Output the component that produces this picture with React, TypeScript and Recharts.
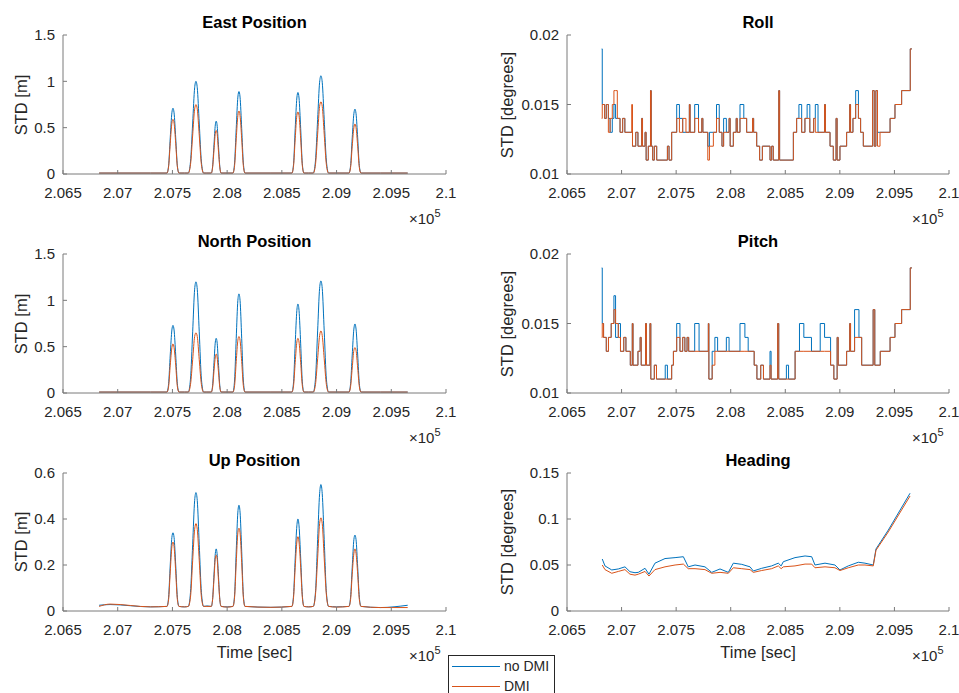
import React from 'react';
import { LineChart, Line, XAxis, YAxis } from 'recharts';

// ---- data ----
const X_TICKS = [206500, 207000, 207500, 208000, 208500, 209000, 209500, 210000];
const X_TICK_LABELS = ['2.065', '2.07', '2.075', '2.08', '2.085', '2.09', '2.095', '2.1'];

const posTime = [
  206830, 206930, 207300,
  207450, 207465, 207480, 207495, 207505, 207515, 207530, 207545, 207560,
  207610,
  207645, 207665, 207685, 207703, 207715, 207727, 207745, 207765, 207785,
  207815,
  207855, 207867, 207880, 207892, 207900, 207908, 207920, 207933, 207945,
  208000,
  208053, 208068, 208083, 208098, 208108, 208118, 208133, 208148, 208163,
  208400,
  208592, 208607, 208622, 208637, 208647, 208657, 208672, 208687, 208702,
  208745,
  208787, 208807, 208827, 208845, 208857, 208869, 208887, 208907, 208927,
  209000,
  209113, 209128, 209143, 209158, 209168, 209178, 209193, 209208, 209223,
  209400, 209650,
];

const eastNoDmi = [
  0.01, 0.01, 0.01,
  0.01, 0.09, 0.39, 0.66, 0.71, 0.66, 0.39, 0.09, 0.01,
  0.01,
  0.01, 0.13, 0.55, 0.93, 1.0, 0.93, 0.55, 0.13, 0.01,
  0.01,
  0.01, 0.08, 0.32, 0.53, 0.57, 0.53, 0.32, 0.08, 0.01,
  0.01,
  0.01, 0.12, 0.49, 0.83, 0.89, 0.83, 0.49, 0.12, 0.01,
  0.01,
  0.01, 0.11, 0.49, 0.82, 0.88, 0.82, 0.49, 0.11, 0.01,
  0.01,
  0.01, 0.14, 0.59, 0.99, 1.06, 0.99, 0.59, 0.14, 0.01,
  0.01,
  0.01, 0.09, 0.39, 0.65, 0.7, 0.65, 0.39, 0.09, 0.01,
  0.01, 0.01,
];
const eastDmi = [
  0.01, 0.01, 0.01,
  0.01, 0.08, 0.33, 0.55, 0.59, 0.55, 0.33, 0.08, 0.01,
  0.01,
  0.01, 0.1, 0.42, 0.7, 0.75, 0.7, 0.42, 0.1, 0.01,
  0.01,
  0.01, 0.07, 0.26, 0.44, 0.47, 0.44, 0.26, 0.07, 0.01,
  0.01,
  0.01, 0.09, 0.38, 0.63, 0.68, 0.63, 0.38, 0.09, 0.01,
  0.01,
  0.01, 0.09, 0.38, 0.63, 0.67, 0.63, 0.38, 0.09, 0.01,
  0.01,
  0.01, 0.1, 0.43, 0.73, 0.78, 0.73, 0.43, 0.1, 0.01,
  0.01,
  0.01, 0.07, 0.3, 0.5, 0.54, 0.5, 0.3, 0.07, 0.01,
  0.01, 0.01,
];

const northNoDmi = [
  0.01, 0.01, 0.01,
  0.01, 0.1, 0.41, 0.68, 0.73, 0.68, 0.41, 0.1, 0.01,
  0.01,
  0.01, 0.15, 0.66, 1.12, 1.2, 1.12, 0.66, 0.15, 0.01,
  0.01,
  0.01, 0.08, 0.33, 0.55, 0.59, 0.55, 0.33, 0.08, 0.01,
  0.01,
  0.01, 0.14, 0.59, 1.0, 1.07, 1.0, 0.59, 0.14, 0.01,
  0.01,
  0.01, 0.12, 0.53, 0.89, 0.96, 0.89, 0.53, 0.12, 0.01,
  0.01,
  0.01, 0.15, 0.67, 1.13, 1.21, 1.13, 0.67, 0.15, 0.01,
  0.01,
  0.01, 0.1, 0.41, 0.69, 0.745, 0.69, 0.41, 0.1, 0.01,
  0.01, 0.01,
];
const northDmi = [
  0.01, 0.01, 0.01,
  0.01, 0.07, 0.3, 0.49, 0.53, 0.49, 0.3, 0.07, 0.01,
  0.01,
  0.01, 0.09, 0.36, 0.61, 0.65, 0.61, 0.36, 0.09, 0.01,
  0.01,
  0.01, 0.06, 0.24, 0.39, 0.42, 0.39, 0.24, 0.06, 0.01,
  0.01,
  0.01, 0.08, 0.34, 0.57, 0.61, 0.57, 0.34, 0.08, 0.01,
  0.01,
  0.01, 0.08, 0.33, 0.55, 0.59, 0.55, 0.33, 0.08, 0.01,
  0.01,
  0.01, 0.09, 0.37, 0.62, 0.67, 0.62, 0.37, 0.09, 0.01,
  0.01,
  0.01, 0.07, 0.27, 0.46, 0.49, 0.46, 0.27, 0.07, 0.01,
  0.01, 0.01,
];

const upNoDmi = [
  0.025, 0.028, 0.018,
  0.02, 0.06, 0.2, 0.32, 0.34, 0.32, 0.2, 0.06, 0.02,
  0.018,
  0.02, 0.08, 0.29, 0.48, 0.515, 0.48, 0.29, 0.08, 0.02,
  0.022,
  0.02, 0.05, 0.16, 0.25, 0.27, 0.25, 0.16, 0.05, 0.02,
  0.018,
  0.02, 0.07, 0.26, 0.43, 0.46, 0.43, 0.26, 0.07, 0.02,
  0.016,
  0.02, 0.07, 0.23, 0.37, 0.4, 0.37, 0.23, 0.07, 0.02,
  0.018,
  0.02, 0.08, 0.31, 0.51, 0.55, 0.51, 0.31, 0.08, 0.02,
  0.018,
  0.02, 0.06, 0.19, 0.31, 0.33, 0.31, 0.19, 0.06, 0.02,
  0.015, 0.025,
];
const upDmi = [
  0.02, 0.03, 0.018,
  0.02, 0.05, 0.17, 0.28, 0.3, 0.28, 0.17, 0.05, 0.02,
  0.018,
  0.02, 0.06, 0.22, 0.355, 0.38, 0.355, 0.22, 0.06, 0.02,
  0.02,
  0.02, 0.05, 0.14, 0.23, 0.243, 0.23, 0.14, 0.05, 0.02,
  0.017,
  0.02, 0.06, 0.21, 0.34, 0.36, 0.34, 0.21, 0.06, 0.02,
  0.016,
  0.02, 0.06, 0.19, 0.3, 0.323, 0.3, 0.19, 0.06, 0.02,
  0.018,
  0.02, 0.07, 0.23, 0.38, 0.405, 0.38, 0.23, 0.07, 0.02,
  0.017,
  0.02, 0.05, 0.16, 0.25, 0.27, 0.25, 0.16, 0.05, 0.02,
  0.015, 0.015,
];

const rollTime = [
  206818, 206823, 206845, 206860, 206879, 206895, 206915, 206930, 206945, 206961,
  206986, 207010, 207030, 207093, 207100, 207130, 207150, 207184, 207192, 207215,
  207225, 207245, 207265, 207272, 207285, 207300, 207322, 207420, 207435, 207459,
  207505, 207530, 207560, 207590, 207621, 207628, 207670, 207705, 207735, 207745,
  207790, 207805, 207841, 207870, 207895, 207920, 207935, 207960, 207985, 207995,
  208024, 208050, 208060, 208085, 208120, 208146, 208200, 208210, 208238, 208265,
  208290, 208360, 208375, 208390, 208440, 208448, 208574, 208604, 208625, 208650,
  208680, 208700, 208725, 208760, 208775, 208800, 208860, 208868, 208910, 208940,
  208965, 208975, 209001, 209062, 209090, 209098, 209120, 209145, 209170, 209190,
  209215, 209300, 209315, 209330, 209345, 209368, 209460, 209505, 209566, 209645,
  209660,
];
const rollNoDmi = [
  0.019, 0.015, 0.014, 0.015, 0.014, 0.013, 0.014, 0.015, 0.014, 0.014,
  0.013, 0.014, 0.013, 0.013, 0.012, 0.013, 0.012, 0.014, 0.012, 0.013,
  0.011, 0.012, 0.016, 0.012, 0.011, 0.012, 0.011, 0.012, 0.011, 0.013,
  0.015, 0.014, 0.013, 0.013, 0.015, 0.013, 0.015, 0.013, 0.014, 0.013,
  0.012, 0.013, 0.013, 0.015, 0.013, 0.012, 0.014, 0.013, 0.014, 0.012,
  0.013, 0.014, 0.013, 0.015, 0.014, 0.013, 0.014, 0.013, 0.012, 0.011,
  0.012, 0.011, 0.012, 0.011, 0.016, 0.011, 0.013, 0.014, 0.015, 0.013,
  0.014, 0.015, 0.013, 0.014, 0.015, 0.013, 0.015, 0.013, 0.012, 0.011,
  0.014, 0.011, 0.012, 0.013, 0.015, 0.013, 0.014, 0.016, 0.014, 0.013,
  0.012, 0.016, 0.012, 0.016, 0.013, 0.013, 0.014, 0.015, 0.016, 0.019,
  0.019,
];
const rollDmi = [
  0.014, 0.015, 0.014, 0.015, 0.013, 0.014, 0.015, 0.016, 0.016, 0.014,
  0.013, 0.014, 0.013, 0.015, 0.012, 0.013, 0.012, 0.014, 0.012, 0.013,
  0.011, 0.012, 0.016, 0.012, 0.011, 0.012, 0.011, 0.012, 0.011, 0.013,
  0.014, 0.013, 0.014, 0.013, 0.015, 0.013, 0.014, 0.013, 0.014, 0.013,
  0.011, 0.012, 0.013, 0.014, 0.013, 0.012, 0.013, 0.013, 0.014, 0.012,
  0.013, 0.014, 0.013, 0.014, 0.014, 0.013, 0.014, 0.013, 0.012, 0.011,
  0.012, 0.011, 0.012, 0.011, 0.016, 0.011, 0.013, 0.014, 0.014, 0.013,
  0.014, 0.014, 0.013, 0.014, 0.013, 0.013, 0.015, 0.013, 0.012, 0.011,
  0.014, 0.011, 0.012, 0.013, 0.015, 0.013, 0.014, 0.015, 0.014, 0.013,
  0.012, 0.016, 0.012, 0.016, 0.012, 0.013, 0.014, 0.015, 0.016, 0.019,
  0.019,
];

const pitchTime = [
  206818, 206823, 206835, 206860, 206880, 206905, 206930, 206945, 206970, 206990,
  207020, 207040, 207080, 207098, 207105, 207150, 207170, 207180, 207220, 207228,
  207260, 207268, 207300, 207320, 207400, 207420, 207459, 207475, 207505, 207535,
  207560, 207580, 207600, 207615, 207670, 207710, 207795, 207800, 207830, 207855,
  207880, 207960, 207985, 208085, 208130, 208160, 208215, 208240, 208275, 208300,
  208360, 208370, 208430, 208440, 208510, 208530, 208590, 208630, 208670, 208740,
  208820, 208860, 208915, 208945, 208975, 208985, 209062, 209090, 209098, 209135,
  209175, 209200, 209305, 209320, 209370, 209460, 209505, 209566, 209645, 209660,
];
const pitchNoDmi = [
  0.019, 0.015, 0.014, 0.013, 0.014, 0.015, 0.017, 0.014, 0.015, 0.013,
  0.014, 0.013, 0.012, 0.015, 0.012, 0.013, 0.014, 0.012, 0.015, 0.012,
  0.015, 0.011, 0.012, 0.011, 0.012, 0.011, 0.012, 0.013, 0.015, 0.013,
  0.014, 0.013, 0.014, 0.013, 0.015, 0.013, 0.015, 0.011, 0.013, 0.014,
  0.013, 0.014, 0.013, 0.015, 0.014, 0.013, 0.012, 0.011, 0.012, 0.011,
  0.013, 0.011, 0.015, 0.011, 0.012, 0.011, 0.013, 0.015, 0.014, 0.013,
  0.015, 0.014, 0.012, 0.011, 0.014, 0.012, 0.013, 0.015, 0.013, 0.016,
  0.014, 0.012, 0.016, 0.012, 0.013, 0.014, 0.015, 0.016, 0.019, 0.019,
];
const pitchDmi = [
  0.014, 0.015, 0.014, 0.013, 0.014, 0.015, 0.016, 0.015, 0.014, 0.013,
  0.014, 0.013, 0.012, 0.015, 0.012, 0.013, 0.014, 0.012, 0.015, 0.012,
  0.015, 0.011, 0.012, 0.011, 0.011, 0.011, 0.012, 0.013, 0.014, 0.013,
  0.014, 0.013, 0.014, 0.013, 0.013, 0.013, 0.015, 0.011, 0.012, 0.013,
  0.013, 0.013, 0.013, 0.013, 0.013, 0.013, 0.012, 0.011, 0.012, 0.011,
  0.012, 0.011, 0.015, 0.011, 0.011, 0.011, 0.013, 0.013, 0.013, 0.013,
  0.013, 0.013, 0.012, 0.011, 0.014, 0.012, 0.013, 0.015, 0.013, 0.014,
  0.014, 0.012, 0.016, 0.012, 0.013, 0.014, 0.015, 0.016, 0.019, 0.019,
];

const headTime = [
  206823, 206848, 206910, 206970, 207031, 207077, 207123, 207153, 207215, 207251,
  207306, 207398, 207490, 207566, 207611, 207673, 207764, 207826, 207902, 207978,
  208024, 208101, 208177, 208207, 208284, 208375, 208436, 208462, 208482, 208589,
  208681, 208742, 208772, 208864, 208955, 209001, 209077, 209169, 209230, 209306,
  209331, 209444, 209643,
];
const headNoDmi = [
  0.0565, 0.049, 0.0446, 0.0457, 0.048, 0.0427, 0.0416, 0.042, 0.0464, 0.04,
  0.052, 0.057, 0.058, 0.059, 0.048, 0.05, 0.048, 0.042, 0.0457, 0.042,
  0.052, 0.0507, 0.048, 0.0435, 0.0464, 0.049, 0.052, 0.049, 0.0536, 0.058,
  0.0598, 0.059, 0.05, 0.052, 0.05, 0.0446, 0.049, 0.053, 0.052, 0.05,
  0.0674, 0.088, 0.128,
];
const headDmi = [
  0.05, 0.045, 0.041, 0.043, 0.045, 0.04, 0.039, 0.04, 0.043, 0.038,
  0.045, 0.048, 0.05, 0.051, 0.046, 0.046, 0.045, 0.041, 0.042, 0.041,
  0.047, 0.046, 0.045, 0.042, 0.044, 0.046, 0.049, 0.046, 0.048, 0.049,
  0.051, 0.051, 0.047, 0.048, 0.047, 0.044, 0.047, 0.05, 0.05, 0.049,
  0.066, 0.086, 0.125,
];

// ---- styling ----
const BLUE = '#0072BD';
const RED = '#D95319';
const AXIS = '#7a7a7a';
const TXT = '#262626';
const FONT = '"Liberation Sans", Arial, Helvetica, sans-serif';

const rows = (t: number[], a: number[], b: number[]) => t.map((v, i) => ({ t: v, a: a[i], b: b[i] }));

const xFmt = (v: number) => X_TICK_LABELS[X_TICKS.indexOf(v)] ?? '';

interface PanelProps {
  x0: number;
  y0: number;
  w: number;
  h: number;
  title: string;
  yLabel: string;
  yLabelX: number;
  yDomain: [number, number];
  yTicks: number[];
  data: { t: number; a: number; b: number }[];
  curve: 'monotone' | 'linear' | 'stepAfter';
  showTime?: boolean;
}

const Panel: React.FC<PanelProps> = ({ x0, y0, w, h, title, yLabel, yLabelX, yDomain, yTicks, data, curve, showTime }) => {
  const padL = 60, padT = 12, padR = 16, padB = 36;
  const cx = x0 + w / 2;
  return (
    <>
      <div style={{ position: 'absolute', left: x0 - padL, top: y0 - padT }}>
        <LineChart
          width={w + padL + padR}
          height={h + padT + padB}
          data={data}
          margin={{ top: padT, right: padR, bottom: 0, left: 0 }}
        >
          <XAxis
            dataKey="t"
            type="number"
            domain={[206500, 210000]}
            ticks={X_TICKS}
            interval={0}
            tickFormatter={xFmt}
            height={padB}
            tickSize={-4}
            tickMargin={17}
            stroke={AXIS}
            tick={{ fill: TXT, fontSize: 15, fontFamily: FONT }}
            allowDataOverflow
          />
          <XAxis
            xAxisId="top"
            orientation="top"
            dataKey="t"
            type="number"
            domain={[206500, 210000]}
            ticks={X_TICKS}
            interval={0}
            height={0}
            tickSize={-4}
            tick={false}
            stroke={AXIS}
            allowDataOverflow
          />
          <YAxis
            type="number"
            domain={yDomain}
            ticks={yTicks}
            interval={0}
            width={padL}
            tickSize={-4}
            tickMargin={12}
            stroke={AXIS}
            tick={{ fill: TXT, fontSize: 15, fontFamily: FONT }}
            allowDataOverflow
          />
          <YAxis
            yAxisId="right"
            orientation="right"
            type="number"
            domain={yDomain}
            ticks={yTicks}
            interval={0}
            width={0}
            tickSize={-4}
            tick={false}
            stroke={AXIS}
            allowDataOverflow
          />
          <Line dataKey="a" type={curve} stroke={BLUE} strokeWidth={1} dot={false} activeDot={false} isAnimationActive={false} />
          <Line dataKey="b" type={curve} stroke={RED} strokeWidth={1} dot={false} activeDot={false} isAnimationActive={false} />
        </LineChart>
      </div>
      <div style={{ position: 'absolute', left: cx, top: y0 - 13, transform: 'translate(-50%, -50%)', fontWeight: 'bold', fontSize: 16.5, color: '#000', whiteSpace: 'nowrap' }}>
        {title}
      </div>
      <div style={{ position: 'absolute', left: yLabelX, top: y0 + h / 2, transform: 'translate(-50%, -50%) rotate(-90deg)', fontSize: 16.5, color: TXT, whiteSpace: 'nowrap' }}>
        {yLabel}
      </div>
      <div style={{ position: 'absolute', left: x0 + w - 37, top: y0 + h + 37, fontSize: 15, lineHeight: '16px', color: TXT, whiteSpace: 'nowrap' }}>
        ×10<span style={{ fontSize: 11, position: 'relative', top: -7 }}>5</span>
      </div>
      {showTime && (
        <div style={{ position: 'absolute', left: cx, top: y0 + h + 41, transform: 'translate(-50%, -50%)', fontSize: 16.5, color: TXT, whiteSpace: 'nowrap' }}>
          Time [sec]
        </div>
      )}
    </>
  );
};

export default function App() {
  const L = 63, R = 567, WL = 383, WR = 382;
  const rowsY = [35, 254, 473];
  const H = 139;
  const labL = 21, labR = 507;
  return (
    <div style={{ position: 'absolute', left: 0, top: 0, width: 959, height: 693, overflow: 'hidden', background: '#fff', fontFamily: FONT }}>
      <Panel x0={L} y0={rowsY[0]} w={WL} h={H} title="East Position" yLabel="STD [m]" yLabelX={labL} yDomain={[0, 1.5]} yTicks={[0, 0.5, 1, 1.5]} data={rows(posTime, eastNoDmi, eastDmi)} curve="monotone" />
      <Panel x0={R} y0={rowsY[0]} w={WR} h={H} title="Roll" yLabel="STD [degrees]" yLabelX={labR} yDomain={[0.01, 0.02]} yTicks={[0.01, 0.015, 0.02]} data={rows(rollTime, rollNoDmi, rollDmi)} curve="stepAfter" />
      <Panel x0={L} y0={rowsY[1]} w={WL} h={H} title="North Position" yLabel="STD [m]" yLabelX={labL} yDomain={[0, 1.5]} yTicks={[0, 0.5, 1, 1.5]} data={rows(posTime, northNoDmi, northDmi)} curve="monotone" />
      <Panel x0={R} y0={rowsY[1]} w={WR} h={H} title="Pitch" yLabel="STD [degrees]" yLabelX={labR} yDomain={[0.01, 0.02]} yTicks={[0.01, 0.015, 0.02]} data={rows(pitchTime, pitchNoDmi, pitchDmi)} curve="stepAfter" />
      <Panel x0={L} y0={rowsY[2]} w={WL} h={H - 1} title="Up Position" yLabel="STD [m]" yLabelX={labL} yDomain={[0, 0.6]} yTicks={[0, 0.2, 0.4, 0.6]} data={rows(posTime, upNoDmi, upDmi)} curve="monotone" showTime />
      <Panel x0={R} y0={rowsY[2]} w={WR} h={H - 1} title="Heading" yLabel="STD [degrees]" yLabelX={labR} yDomain={[0, 0.15]} yTicks={[0, 0.05, 0.1, 0.15]} data={rows(headTime, headNoDmi, headDmi)} curve="linear" showTime />

      <div style={{ position: 'absolute', left: 448, top: 655, width: 105, height: 60, border: '1px solid #262626', background: '#fff', fontSize: 14, color: TXT }}>
        <div style={{ position: 'absolute', left: 3, top: 10, width: 48, borderTop: `1px solid ${BLUE}` }} />
        <div style={{ position: 'absolute', left: 55, top: 3, lineHeight: '14px' }}>no DMI</div>
        <div style={{ position: 'absolute', left: 3, top: 30, width: 48, borderTop: `1px solid ${RED}` }} />
        <div style={{ position: 'absolute', left: 55, top: 23, lineHeight: '14px' }}>DMI</div>
      </div>
    </div>
  );
}
